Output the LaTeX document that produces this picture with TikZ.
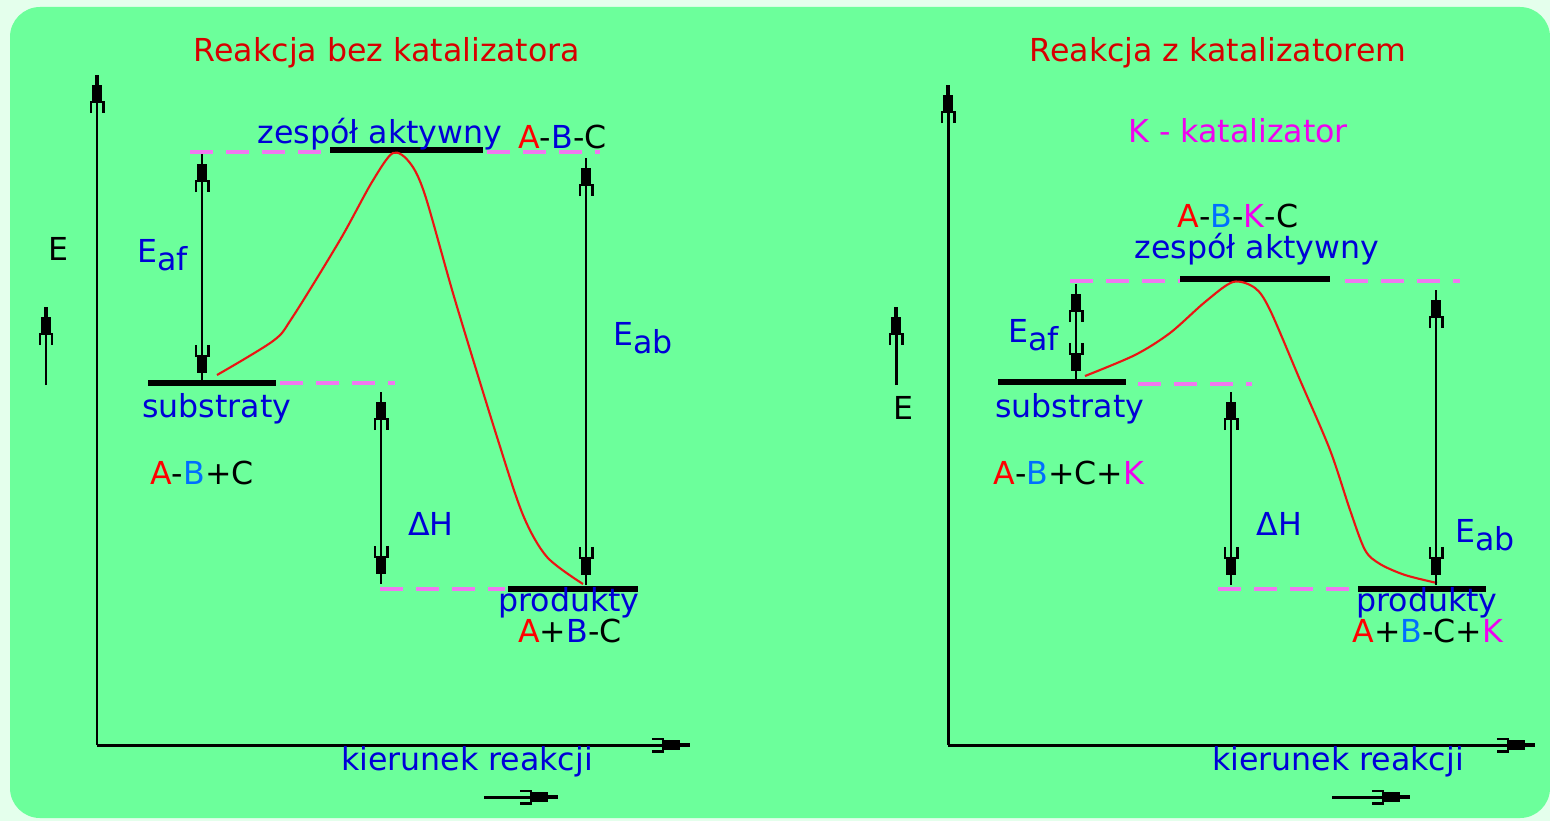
\documentclass[tikz,border=0pt]{standalone}
\usepackage{fontspec}
\setmainfont{DejaVu Sans}
\usepackage{xcolor}
\usetikzlibrary{arrows.meta, positioning}

\definecolor{page}{RGB}{228,255,236}
\definecolor{board}{RGB}{108,255,155}
\definecolor{ttl}{RGB}{215,0,0}
\definecolor{lbl}{RGB}{0,0,215}
\definecolor{atomA}{RGB}{255,0,0}
\definecolor{atomB}{RGB}{0,110,255}
\definecolor{atomK}{RGB}{240,0,240}
\definecolor{lvl}{RGB}{240,120,240}
\definecolor{crv}{RGB}{235,20,20}

\newcommand{\chA}{\textcolor{atomA}{A}}
\newcommand{\chB}{\textcolor{atomB}{B}}
\newcommand{\chK}{\textcolor{atomK}{K}}
\newcommand{\sub}[1]{\raisebox{-5pt}{#1}}

\tikzset{fork/.tip={Bracket[width=0.3cm,length=0.22cm,line width=1.4pt,sep=0pt] Rectangle[length=0.32cm,width=0.2cm,sep=0pt] Rectangle[length=0.2cm,width=1.4pt]}}

\begin{document}
\begin{tikzpicture}[x=0.02cm,y=-0.02cm,
    font=\fontsize{18}{20}\selectfont,
    txt/.style={inner sep=0pt},
    eaxis/.style={line width=1.7pt,-fork},
    energy/.style={line width=1.5pt,fork-fork},
    lvlbar/.style={line width=3pt},
    lvldash/.style={lvl,line width=2pt,dash pattern=on 0.46cm off 0.26cm},
    profile/.style={crv,line width=1.2pt}]

    \useasboundingbox (0,0) rectangle (1550,821);
    \fill[page] (0,0) rectangle (1550,821);
    \fill[board,rounded corners=0.6cm] (10,7) rectangle (1550,818);

    % bez katalizatora
    \node[txt,text=ttl,anchor=base] (t1) at (387,62) {Reakcja bez katalizatora};
    \coordinate (o1) at (97,745);
    \coordinate (y1) at (97,75);
    \coordinate (x1) at (690,745);
    \draw[eaxis] (o1) -- (y1);
    \draw[eaxis] (o1) -- (x1);
    \node[txt,anchor=base] (e1) at (58,260) {E};
    \coordinate (ea1) at (46,385);
    \coordinate (eb1) at (46,307);
    \draw[eaxis] (ea1) -- (eb1);
    \node[txt,text=lbl,anchor=base] (k1) at (467,770) {kierunek reakcji};
    \coordinate (ka1) at (484,797);
    \coordinate (kb1) at (558,797);
    \draw[eaxis] (ka1) -- (kb1);

    \draw[lvldash] (190,152) -- (330,152);
    \draw[lvldash] (487,152) -- (600,152);
    \draw[lvldash] (280,383) -- (395,383);
    \draw[lvldash] (380,589) -- (505,589);
    \draw[lvlbar] (330,150) -- (483,150);
    \draw[lvlbar] (148,383) -- (276,383);
    \draw[lvlbar] (508,589) -- (638,589);

    \node[txt,text=lbl,anchor=base] (za1) at (380,143) {zespół aktywny};
    \node[txt,anchor=base west] (abc1) at (518,148) {\chA-\textcolor{lbl}{B}-C};
    \node[txt,text=lbl,anchor=base west] (s1) at (142,417) {substraty};
    \node[txt,anchor=base west] (sf1) at (150,484) {\chA-\chB+C};
    \node[txt,text=lbl,anchor=base west] (p1) at (498,611) {produkty};
    \node[txt,anchor=base west] (pf1) at (518,642) {\chA+\textcolor{lbl}{B}-C};

    \draw[profile] plot[smooth,tension=0.5] coordinates {(217,375) (273,341) (292,318)
        (340,240) (372,182) (393,153) (410,163) (425,195) (455,300)
        (497,437) (523,515) (547,557) (583,584)};

    \coordinate (fa1) at (202,383);
    \coordinate (fb1) at (202,154);
    \draw[energy] (fa1) -- (fb1);
    \node[txt,text=lbl,anchor=base west] (eaf1) at (137,262) {E\sub{af}};
    \coordinate (ha1) at (381,392);
    \coordinate (hb1) at (381,584);
    \draw[energy] (ha1) -- (hb1);
    \node[txt,text=lbl,anchor=base west] (dh1) at (408,535) {ΔH};
    \coordinate (ba1) at (586,585);
    \coordinate (bb1) at (586,158);
    \draw[energy] (ba1) -- (bb1);
    \node[txt,text=lbl,anchor=base west] (eab1) at (613,345) {E\sub{ab}};

    % z katalizatorem
    \node[txt,text=ttl,anchor=base] (t2) at (1218,62) {Reakcja z katalizatorem};
    \node[txt,text=atomK,anchor=base] (kk2) at (1238,142) {K - katalizator};
    \coordinate (o2) at (948,745);
    \coordinate (y2) at (948,85);
    \coordinate (x2) at (1535,745);
    \draw[eaxis] (o2) -- (y2);
    \draw[eaxis] (o2) -- (x2);
    \node[txt,anchor=base] (e2) at (903,419) {E};
    \coordinate (ea2) at (896,385);
    \coordinate (eb2) at (896,307);
    \draw[eaxis] (ea2) -- (eb2);
    \node[txt,text=lbl,anchor=base] (k2) at (1338,770) {kierunek reakcji};
    \coordinate (ka2) at (1332,797);
    \coordinate (kb2) at (1410,797);
    \draw[eaxis] (ka2) -- (kb2);

    \draw[lvldash] (1070,281) -- (1180,281);
    \draw[lvldash] (1345,281) -- (1460,281);
    \draw[lvldash] (1138,384) -- (1252,384);
    \draw[lvldash] (1218,589) -- (1355,589);
    \draw[lvlbar] (1180,279) -- (1330,279);
    \draw[lvlbar] (998,382) -- (1126,382);
    \draw[lvlbar] (1358,589) -- (1486,589);

    \node[txt,anchor=base] (abkc2) at (1238,227) {\chA-\chB-\chK-C};
    \node[txt,text=lbl,anchor=base] (za2) at (1257,258) {zespół aktywny};
    \node[txt,text=lbl,anchor=base west] (s2) at (995,417) {substraty};
    \node[txt,anchor=base west] (sf2) at (993,484) {\chA-\chB+C+\chK};
    \node[txt,text=lbl,anchor=base west] (p2) at (1356,611) {produkty};
    \node[txt,anchor=base west] (pf2) at (1352,642) {\chA+\chB-C+\chK};

    \draw[profile] plot[smooth,tension=0.5] coordinates {(1085,376) (1135,355)
        (1170,333) (1205,302) (1233,282) (1255,288) (1270,310)
        (1300,380) (1330,450) (1350,510) (1365,550) (1380,564)
        (1405,575) (1437,583)};

    \coordinate (fa2) at (1076,381);
    \coordinate (fb2) at (1076,284);
    \draw[energy] (fa2) -- (fb2);
    \node[txt,text=lbl,anchor=base west] (eaf2) at (1008,342) {E\sub{af}};
    \coordinate (ha2) at (1231,392);
    \coordinate (hb2) at (1231,585);
    \draw[energy] (ha2) -- (hb2);
    \node[txt,text=lbl,anchor=base west] (dh2) at (1256,535) {ΔH};
    \coordinate (ba2) at (1436,585);
    \coordinate (bb2) at (1436,290);
    \draw[energy] (ba2) -- (bb2);
    \node[txt,text=lbl,anchor=base west] (eab2) at (1455,542) {E\sub{ab}};
\end{tikzpicture}
\end{document}
